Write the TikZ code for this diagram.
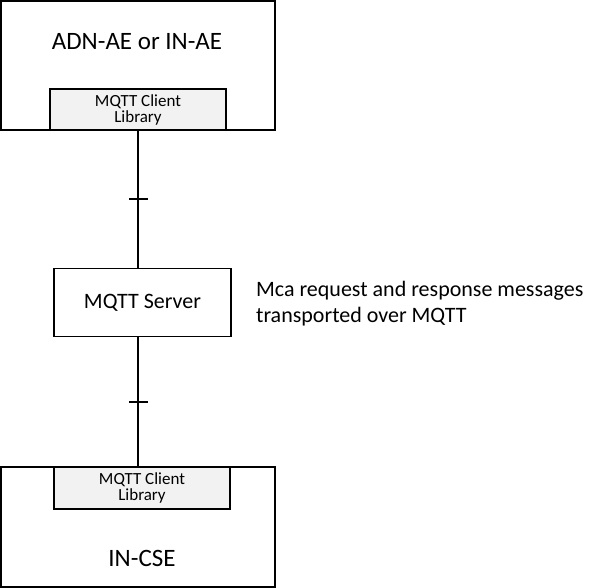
\documentclass[tikz,border=0pt]{standalone}
\usepackage{fontspec}
\setmainfont{Carlito}
\definecolor{libfill}{RGB}{242,242,242}
\begin{document}
\begin{tikzpicture}[x=1pt, y=-1pt, line width=1.6pt,
    box/.style={draw, rectangle, inner sep=0pt},
    lib/.style={box, fill=libfill, minimum width=176pt, align=center,
        font=\fontsize{17}{16}\selectfont},
    crossbar/.style={fill=black, minimum width=19pt, minimum height=1.6pt, inner sep=0pt}]
    \useasboundingbox (0,0) rectangle (600,588);

    \node[box, minimum width=274pt, minimum height=129pt] (ae) at (138,65.5) {};
    \node[font=\fontsize{25}{28}\selectfont] (aename) at (137,42) {ADN-AE or IN-AE};
    \node[lib, minimum height=41pt] (toplib) at (138,109.5) {MQTT Client\\Library};

    \node[box, minimum width=177pt, minimum height=68pt,
        font=\fontsize{22}{26}\selectfont] (server) at (142.5,302.5) {MQTT Server};
    \node[anchor=west, align=left, font=\fontsize{22}{26}\selectfont] (mca) at (252,304)
        {Mca request and response messages\\transported over MQTT};

    \node[box, minimum width=274pt, minimum height=120pt] (cse) at (138,527) {};
    \node[font=\fontsize{25}{28}\selectfont] (csename) at (142,558) {IN-CSE};
    \node[lib, minimum height=42pt] (botlib) at (142,488) {MQTT Client\\Library};

    \draw (toplib.south) -- (toplib.south |- server.north) node[midway, crossbar] {};
    \draw (toplib.south |- server.south) -- (toplib.south |- botlib.north) node[midway, crossbar] {};
\end{tikzpicture}
\end{document}
